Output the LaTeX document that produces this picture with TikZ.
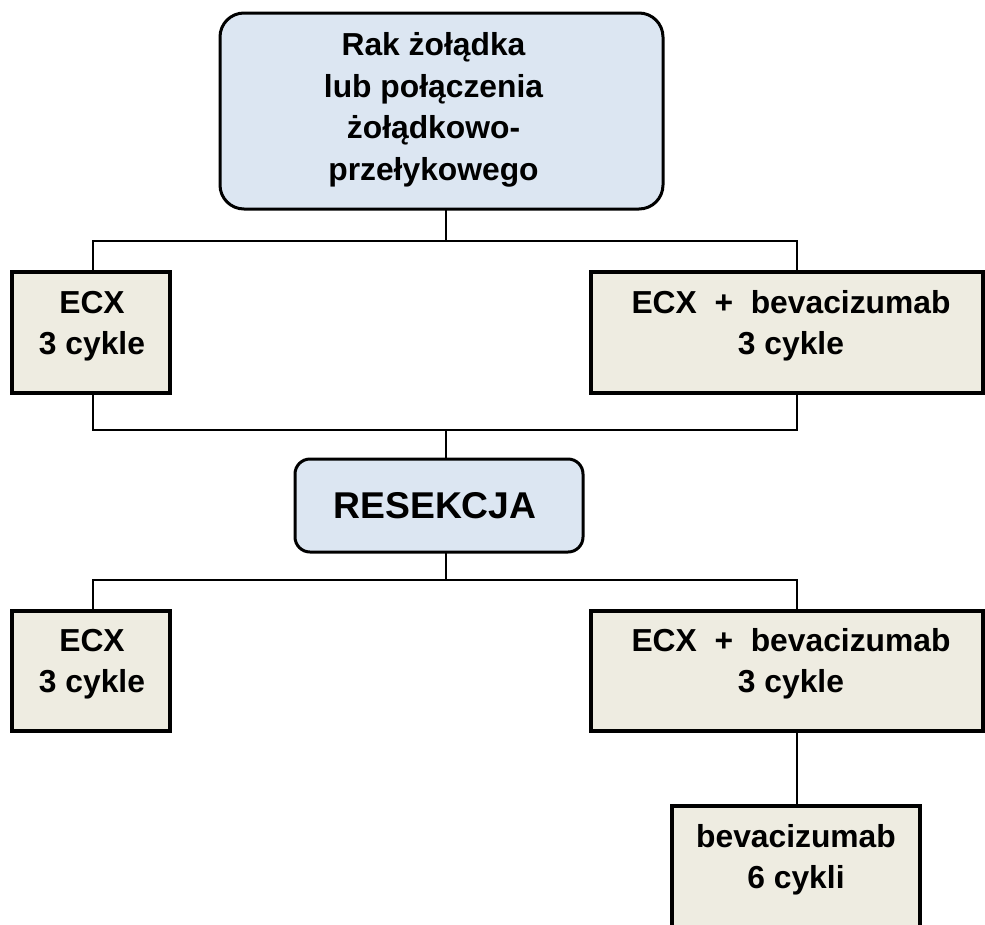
\documentclass[tikz,border=0pt]{standalone}
\usepackage{fontspec}
\setmainfont{Liberation Sans}
\definecolor{boxblue}{HTML}{DCE6F2}
\definecolor{boxbeige}{HTML}{EEECE1}
\begin{document}
\begin{tikzpicture}[x=1pt,y=-1pt,
  bluebox/.style={draw=black, line width=3pt, fill=boxblue, inner sep=0pt},
  beigebox/.style={draw=black, line width=3.2pt, fill=boxbeige, inner sep=0pt},
  txt/.style={align=center, font=\bfseries\fontsize{31.8}{41.5}\selectfont, inner sep=0pt},
  conn/.style={draw=black, line width=1.6pt}]
\useasboundingbox (0,0) rectangle (985,924);
% junction coordinates
\coordinate (h1) at (446,241);
\coordinate (h2) at (446,430);
\coordinate (h3) at (446,580);
% connectors
\draw[conn] (446,209) coordinate (topbot) -- (h1);
\draw[conn] (93,272) coordinate (b1top) |- (h1) -| (797,272) coordinate (b2top);
\draw[conn] (93,393) coordinate (b1bot) |- (h2) -| (797,393) coordinate (b2bot);
\draw[conn] (h2) -- (446,459) coordinate (restop);
\draw[conn] (446,552) coordinate (resbot) -- (h3);
\draw[conn] (93,611) coordinate (c1top) |- (h3) -| (797,611) coordinate (c2top);
\draw[conn] (797,731) coordinate (c2bot) -- (797,806) coordinate (c3top);
% boxes
\node[bluebox, rounded corners=24pt, minimum width=443pt, minimum height=196pt] (top) at (441.5,111) {};
\node[txt] (toptxt) at (433.5,110) {Rak żołądka\\lub połączenia\\żołądkowo-\\przełykowego};
\node[beigebox, minimum width=158pt, minimum height=121pt] (b1) at (91,332.5) {};
\node[txt] (b1txt) at (92,326) {ECX\\3 cykle};
\node[beigebox, minimum width=392pt, minimum height=121pt] (b2) at (787,332.5) {};
\node[txt] (b2txt) at (791,326) {ECX\ \ +\ \ bevacizumab\\3 cykle};
\node[bluebox, rounded corners=15pt, minimum width=288pt, minimum height=93pt] (res) at (439,505.5) {};
\node[txt, font=\bfseries\fontsize{37.3}{40}\selectfont] (restxt) at (435,505.5) {RESEKCJA};
\node[beigebox, minimum width=158pt, minimum height=120pt] (c1) at (91,671) {};
\node[txt] (c1txt) at (92,664) {ECX\\3 cykle};
\node[beigebox, minimum width=392pt, minimum height=120pt] (c2) at (787,671) {};
\node[txt] (c2txt) at (791,664) {ECX\ \ +\ \ bevacizumab\\3 cykle};
\node[beigebox, minimum width=248pt, minimum height=124pt] (c3) at (796,868) {};
\node[txt] (c3txt) at (796,860) {bevacizumab\\6 cykli};
\end{tikzpicture}
\end{document}
